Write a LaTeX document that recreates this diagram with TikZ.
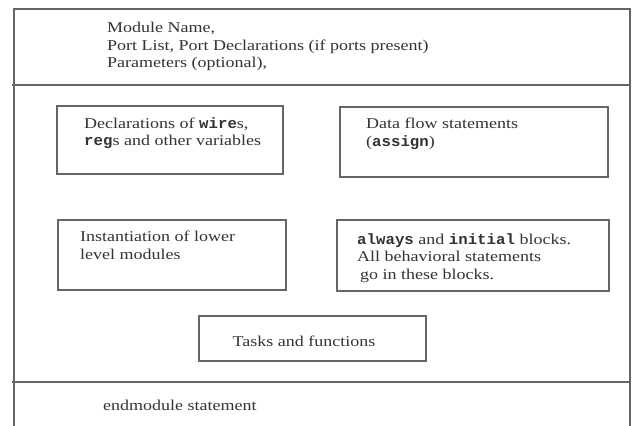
\documentclass[tikz,border=0pt]{standalone}
\usepackage{fontspec}
\setmainfont{Liberation Serif}[FakeStretch=1.2]
\setmonofont{Liberation Mono}[FakeStretch=1.05]
\usepackage{tikz}

\newcommand{\vcode}[1]{\texttt{\textbf{#1}}}

\begin{document}
\begin{tikzpicture}[x=1pt,y=-1pt,
  frame/.style={draw=black!60,line width=1.2pt},
  block/.style={frame,rectangle,inner sep=0pt},
  txt/.style={text=black!80,inner sep=0pt,align=left,font=\fontsize{15}{17.5}\selectfont}]
\useasboundingbox (0,0) rectangle (633,426);
% module frame, open at the bottom
\draw[frame] (14,426) -- (14,9) -- (630,9) -- (630,426);
\draw[frame] (12,85) -- (630,85);
\draw[frame] (12,382) -- (630,382);
\node[txt,anchor=north west] (head) at (107,22)
  {Module Name,\\ Port List, Port Declarations (if ports present)\\ Parameters (optional),};
% inner blocks
\node[block,minimum width=226pt,minimum height=68pt] (decl) at (170,140) {};
\node[block,minimum width=268pt,minimum height=70pt] (flow) at (474,142) {};
\node[block,minimum width=228pt,minimum height=70pt] (inst) at (172,255) {};
\node[block,minimum width=272pt,minimum height=71pt] (behav) at (473,255.5) {};
\node[block,minimum width=227pt,minimum height=45pt] (tasks) at (312.5,338.5) {};
\node[txt,anchor=north west] (decltxt) at (84,117)
  {Declarations of \vcode{wire}s,\\ \vcode{reg}s and other variables};
\node[txt,anchor=north west] (flowtxt) at (366,118)
  {Data flow statements\\ (\vcode{assign})};
\node[txt,anchor=north west] (insttxt) at (80,231)
  {Instantiation of lower\\ level modules};
\node[txt,anchor=north west] (behavtxt) at (357,233)
  {\vcode{always} and \vcode{initial} blocks.\\ All behavioral statements\\ \hspace{3pt}go in these blocks.};
\node[txt] (taskstxt) at (304,341) {Tasks and functions};
\node[txt,anchor=base west] (endtxt) at (103,410) {endmodule statement};
\end{tikzpicture}
\end{document}
